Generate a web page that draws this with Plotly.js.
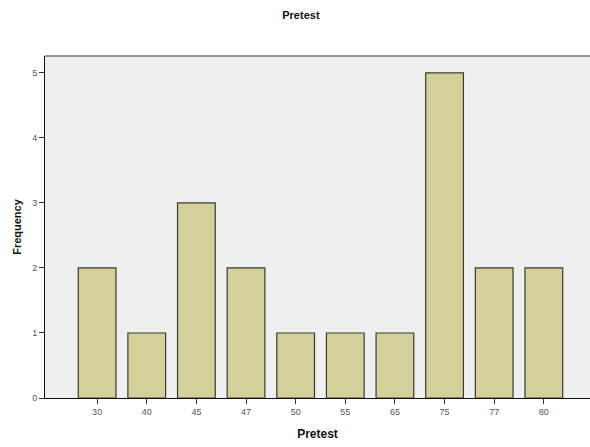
<!DOCTYPE html>
<html>
<head>
<meta charset="utf-8">
<script src="https://cdn.plot.ly/plotly-3.0.1.min.js"></script>
<style>html,body{margin:0;padding:0;background:#fff;}#chart{width:590px;height:447px;}</style>
</head>
<body>
<div id="chart"></div>
<script>
var categories = ["30", "40", "45", "47", "50", "55", "65", "75", "77", "80"];
var frequency = [2, 1, 3, 2, 1, 1, 1, 5, 2, 2];
var yTicks = [0, 1, 2, 3, 4, 5];

var trace = {
  type: 'bar',
  x: categories,
  y: frequency,
  marker: {color: '#d4d09a', line: {color: '#3a3a30', width: 1.2}},
  hoverinfo: 'x+y'
};

var layout = {
  width: 590, height: 447,
  margin: {l: 45, r: 0, t: 56, b: 49},
  paper_bgcolor: '#ffffff',
  plot_bgcolor: '#efefef',
  bargap: 0.24,
  showlegend: false,
  title: {text: '<b>Pretest</b>', x: 0.51, xanchor: 'center', y: 0.967, yanchor: 'middle',
          font: {family: 'Liberation Sans, Arial, sans-serif', size: 11, color: '#111'}},
  xaxis: {
    type: 'category',
    range: [-1.05, 9.93],
    showgrid: false, zeroline: false,
    showline: true, linecolor: '#111', linewidth: 1,
    ticks: 'outside', ticklen: 5, tickcolor: '#333',
    tickfont: {family: 'Liberation Sans, Arial, sans-serif', size: 9, color: '#555'},
    title: {text: '<b>Pretest</b>', standoff: 13, font: {family: 'Liberation Sans, Arial, sans-serif', size: 12, color: '#111'}}
  },
  yaxis: {
    range: [0, 5.26],
    tickvals: yTicks,
    showgrid: false, zeroline: false,
    showline: true, linecolor: '#111', linewidth: 1,
    ticks: 'outside', ticklen: 5, tickcolor: '#333',
    tickfont: {family: 'Liberation Sans, Arial, sans-serif', size: 9, color: '#555'},
    title: {text: '<b>Frequency</b>', standoff: 8, font: {family: 'Liberation Sans, Arial, sans-serif', size: 11, color: '#111'}}
  },
  shapes: [{type: 'line', xref: 'paper', yref: 'paper', x0: 0, x1: 1, y0: 1, y1: 1,
            line: {color: '#777', width: 1.5}}]
};

Plotly.newPlot('chart', [trace], layout, {displayModeBar: false, staticPlot: true});
</script>
</body>
</html>
